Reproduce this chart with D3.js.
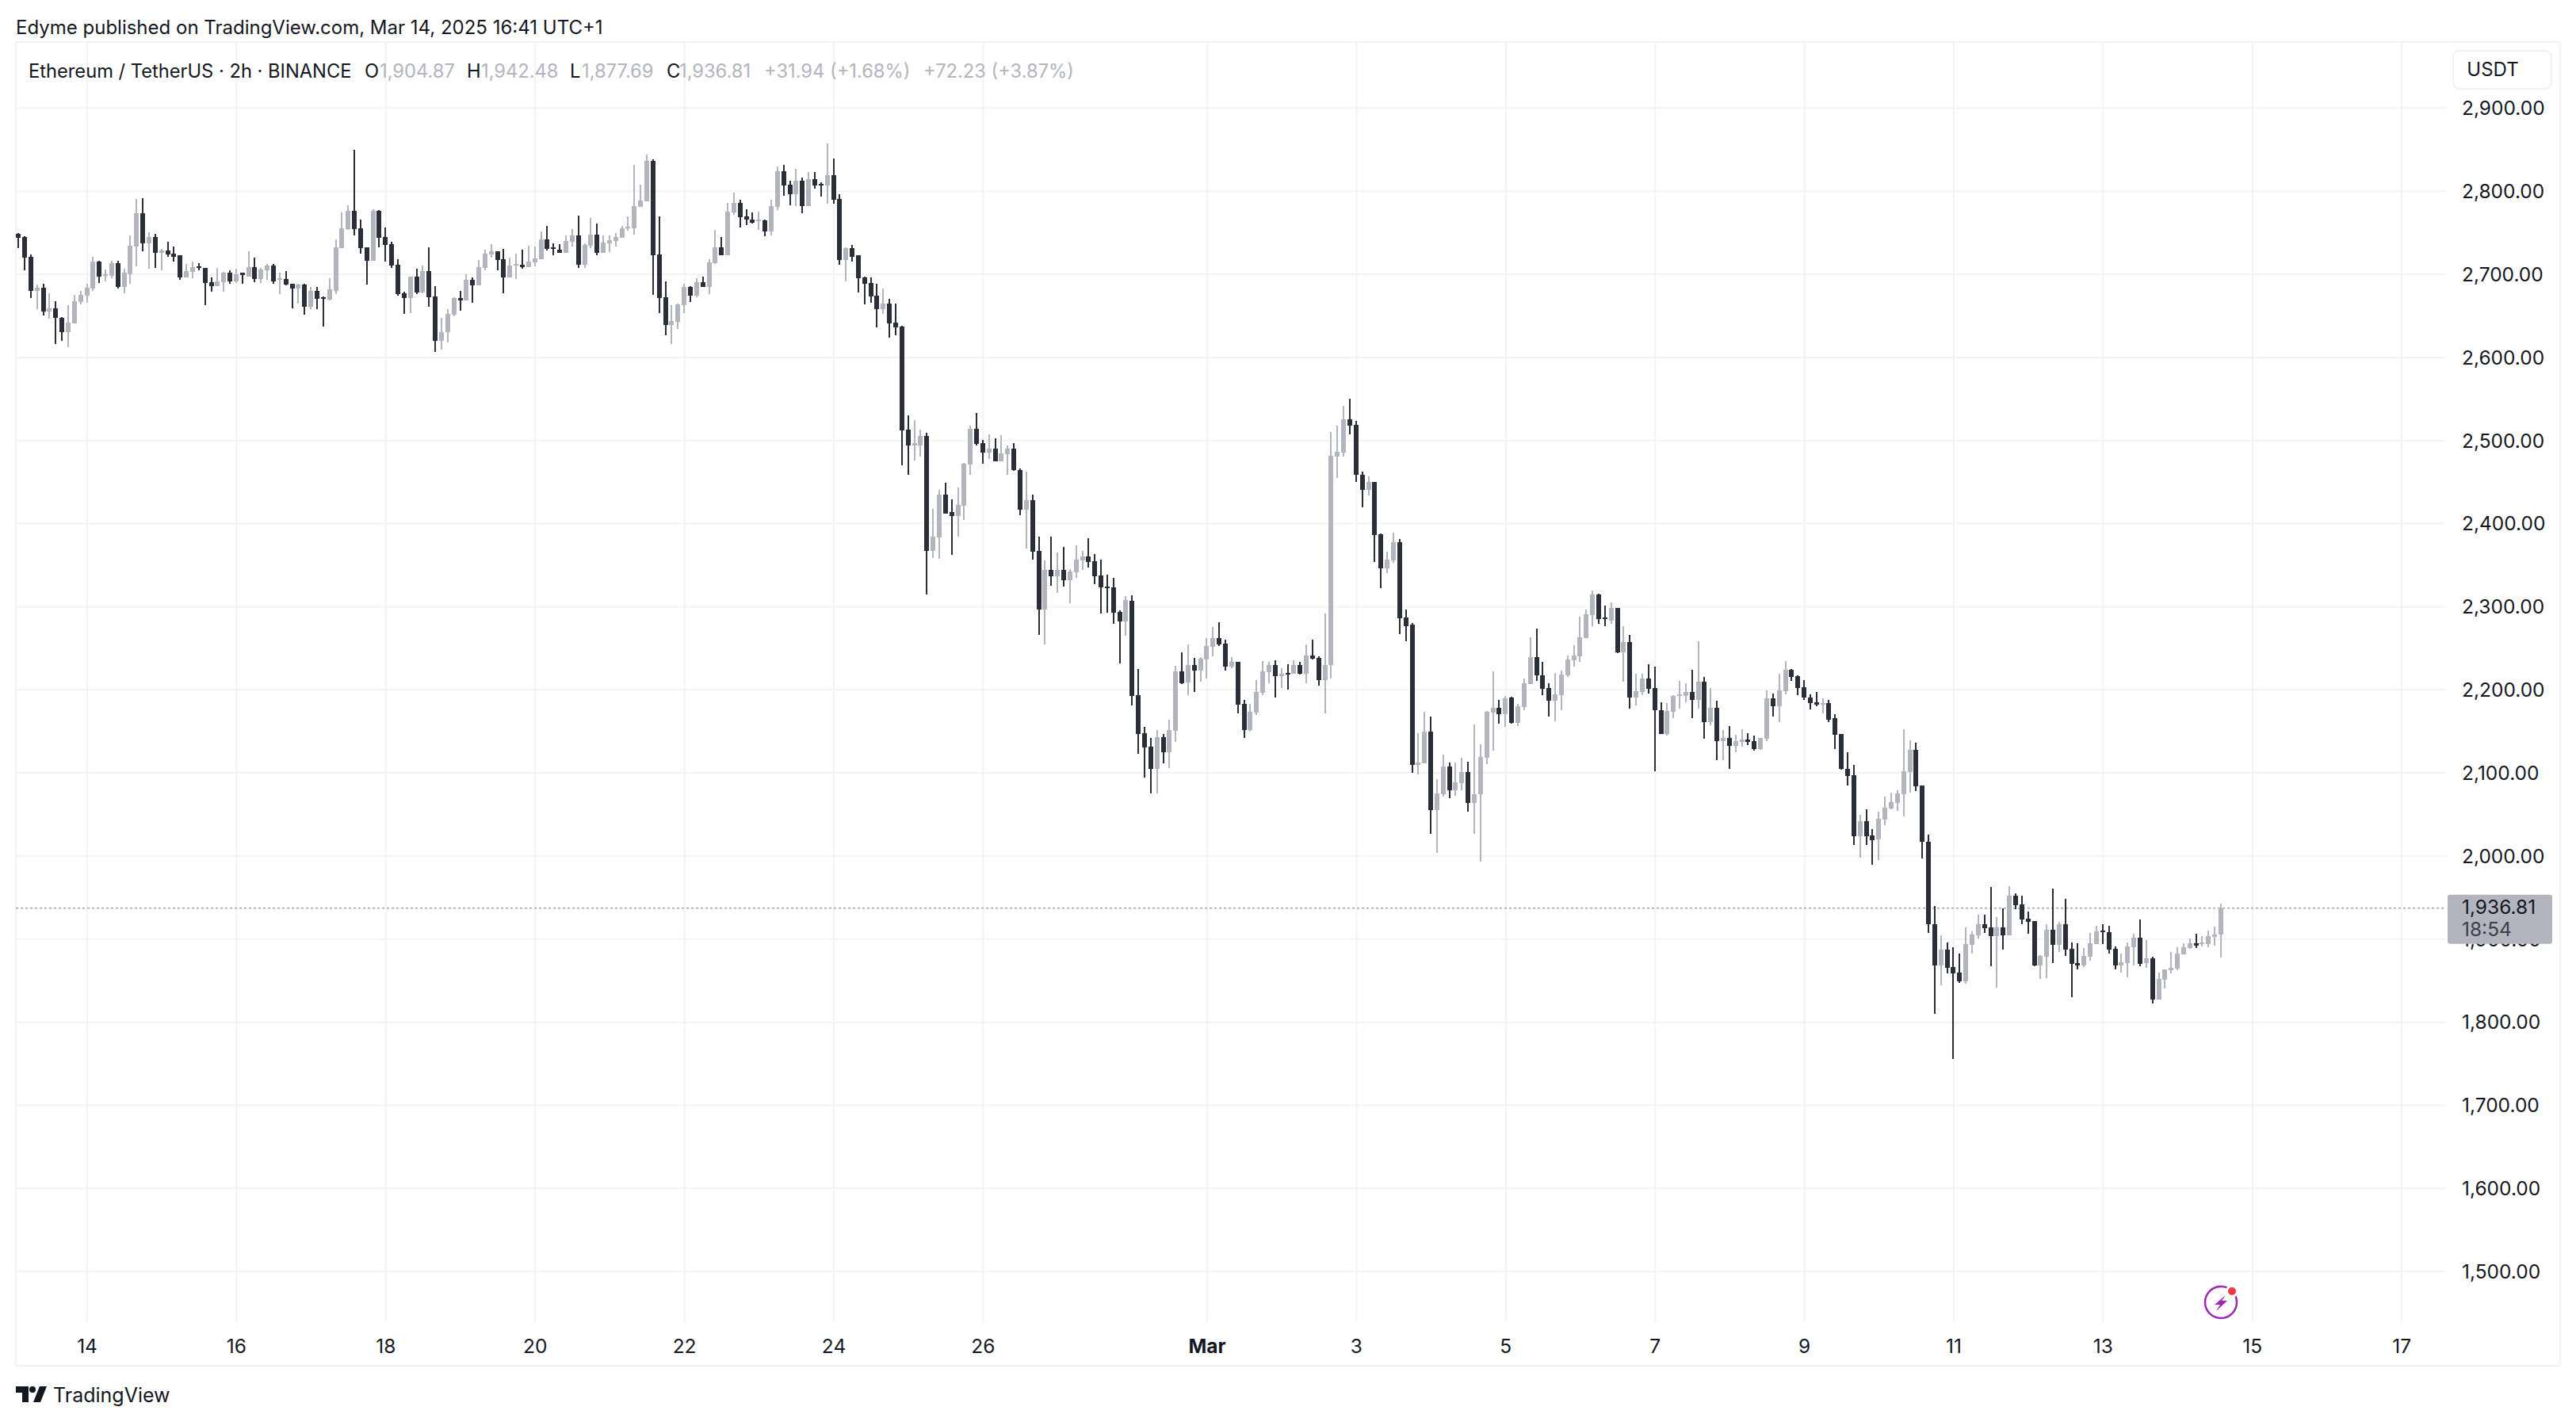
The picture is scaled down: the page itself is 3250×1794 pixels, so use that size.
<!DOCTYPE html>
<html>
<head>
<meta charset="utf-8">
<script src="https://cdn.jsdelivr.net/npm/d3@7"></script>
<style>
  body { margin: 0; background: #fff; }
  text { font-family: Inter, "Noto Sans", sans-serif; }
  .grid line { stroke: #f3f3f4; stroke-width: 2; }
  .axis text { font-size: 24.5px; fill: #131722; }
</style>
</head>
<body>
<svg id="chart" width="3250" height="1794"></svg>
<script>
const firstCandle = Date.UTC(2025, 1, 13, 2);
const candleHours = 2;

const opens = [
  2748,2744,2721,2680,2683,2655,2659,2647,2630,2640,
  2666,2674,2682,2715,2698,2698,2713,2684,2700,2733,
  2773,2737,2744,2725,2728,2724,2722,2696,2702,2709,
  2707,2690,2685,2690,2701,2691,2701,2697,2708,2694,
  2704,2710,2693,2694,2688,2682,2687,2660,2680,2672,
  2669,2680,2731,2754,2776,2755,2732,2716,2776,2744,
  2736,2711,2677,2671,2697,2678,2703,2673,2619,2630,
  2651,2671,2668,2693,2686,2707,2723,2727,2718,2696,
  2710,2711,2708,2714,2718,2742,2732,2729,2725,2739,
  2746,2711,2734,2747,2725,2737,2740,2743,2755,2755,
  2781,2787,2836,2723,2672,2639,2642,2662,2684,2674,
  2690,2684,2713,2732,2722,2774,2785,2769,2765,2763,
  2764,2751,2781,2824,2807,2796,2812,2782,2814,2808,
  2806,2819,2790,2717,2731,2722,2696,2689,2674,2658,
  2664,2641,2637,2513,2494,2494,2505,2367,2383,2434,
  2413,2409,2421,2471,2514,2496,2485,2490,2474,2483,
  2490,2464,2416,2428,2367,2296,2344,2336,2344,2331,
  2341,2355,2360,2354,2337,2324,2323,2293,2282,2307,
  2193,2147,2131,2104,2143,2124,2150,2222,2208,2229,
  2223,2236,2251,2262,2255,2227,2233,2183,2151,2172,
  2196,2221,2229,2216,2220,2219,2229,2219,2241,2238,
  2211,2229,2480,2485,2525,2518,2458,2440,2450,2387,
  2346,2355,2377,2287,2278,2109,2111,2149,2055,2074,
  2107,2079,2087,2101,2063,2074,2118,2172,2178,2170,
  2190,2160,2179,2206,2239,2217,2202,2186,2193,2217,
  2235,2240,2262,2289,2314,2287,2283,2298,2245,2257,
  2190,2197,2213,2202,2175,2146,2173,2192,2192,2197,
  2187,2209,2161,2178,2138,2142,2132,2137,2140,2138,
  2128,2141,2189,2180,2198,2224,2216,2203,2190,2185,
  2182,2184,2165,2146,2104,2097,2023,2041,2024,2020,
  2043,2057,2063,2074,2101,2127,2084,2017,1917,1868,
  1887,1866,1859,1849,1893,1904,1917,1914,1903,1914,
  1904,1952,1941,1924,1921,1868,1878,1911,1893,1917,
  1888,1871,1868,1878,1894,1910,1908,1888,1868,1871,
  1890,1901,1871,1876,1827,1851,1862,1864,1881,1889,
  1895,1894,1894,1902,1904.87
];
const highs = [
  2749,2745,2723,2687,2688,2677,2667,2648,2662,2675,
  2680,2688,2721,2716,2705,2716,2716,2706,2746,2790,
  2791,2750,2748,2730,2739,2733,2722,2712,2715,2713,
  2707,2696,2707,2702,2704,2706,2701,2727,2720,2707,
  2712,2712,2701,2703,2688,2688,2688,2684,2684,2673,
  2695,2742,2774,2783,2849,2765,2732,2778,2777,2756,
  2739,2718,2679,2697,2706,2710,2732,2685,2647,2658,
  2672,2680,2700,2696,2717,2729,2736,2727,2730,2720,
  2724,2729,2734,2733,2751,2758,2737,2736,2746,2754,
  2770,2737,2767,2761,2746,2746,2749,2758,2769,2831,
  2807,2844,2838,2769,2691,2662,2664,2688,2685,2695,
  2697,2718,2753,2744,2785,2798,2789,2778,2774,2775,
  2765,2789,2829,2831,2812,2826,2816,2823,2823,2810,
  2857,2839,2796,2732,2735,2722,2697,2696,2688,2682,
  2670,2664,2638,2530,2524,2513,2509,2417,2440,2449,
  2429,2443,2473,2517,2533,2500,2507,2502,2506,2494,
  2496,2466,2462,2434,2384,2355,2384,2365,2371,2345,
  2373,2367,2382,2363,2356,2338,2334,2295,2312,2313,
  2225,2155,2142,2151,2146,2164,2228,2245,2254,2238,
  2239,2262,2275,2281,2260,2239,2233,2187,2183,2211,
  2234,2233,2235,2226,2230,2235,2233,2254,2260,2240,
  2291,2510,2517,2541,2550,2523,2462,2456,2450,2388,
  2366,2389,2381,2296,2280,2147,2173,2167,2092,2122,
  2112,2112,2118,2113,2158,2134,2174,2222,2187,2192,
  2191,2183,2213,2263,2273,2233,2207,2220,2223,2241,
  2253,2288,2296,2319,2315,2301,2305,2298,2276,2266,
  2219,2219,2230,2227,2185,2184,2193,2210,2207,2224,
  2258,2215,2202,2186,2151,2156,2145,2152,2147,2144,
  2142,2199,2195,2219,2234,2225,2217,2211,2194,2197,
  2189,2187,2170,2146,2124,2109,2049,2056,2032,2053,
  2071,2076,2079,2152,2139,2136,2084,2025,1939,1904,
  1896,1890,1882,1914,1909,1929,1929,1962,1926,1937,
  1963,1955,1952,1933,1921,1880,1917,1960,1920,1948,
  1896,1895,1889,1907,1916,1917,1916,1891,1882,1896,
  1906,1923,1898,1878,1859,1863,1884,1890,1895,1900,
  1906,1903,1910,1915,1942.48
];
const lows = [
  2731,2704,2671,2658,2650,2646,2616,2619,2612,2640,
  2663,2665,2680,2689,2691,2695,2682,2677,2688,2709,
  2727,2706,2707,2704,2721,2715,2693,2696,2695,2704,
  2662,2679,2685,2679,2688,2689,2688,2697,2690,2689,
  2693,2688,2676,2686,2659,2664,2651,2658,2658,2637,
  2668,2676,2731,2753,2746,2724,2687,2716,2732,2715,
  2707,2674,2652,2653,2676,2677,2660,2606,2609,2618,
  2649,2656,2668,2665,2686,2704,2720,2704,2677,2696,
  2694,2706,2708,2709,2718,2728,2722,2725,2725,2733,
  2707,2707,2731,2722,2725,2726,2733,2743,2752,2747,
  2781,2787,2675,2653,2626,2616,2634,2653,2666,2672,
  2684,2676,2712,2722,2722,2771,2756,2759,2761,2753,
  2745,2746,2777,2794,2783,2782,2773,2782,2803,2793,
  2784,2784,2711,2691,2715,2678,2663,2665,2636,2652,
  2623,2626,2470,2458,2475,2480,2314,2358,2357,2412,
  2362,2384,2404,2458,2494,2472,2477,2474,2474,2458,
  2463,2410,2370,2356,2266,2254,2325,2316,2324,2304,
  2334,2344,2347,2327,2291,2292,2279,2231,2265,2181,
  2123,2094,2075,2075,2111,2105,2137,2206,2193,2197,
  2209,2213,2240,2252,2223,2226,2171,2142,2149,2169,
  2193,2207,2190,2202,2200,2219,2218,2207,2236,2205,
  2171,2213,2454,2480,2507,2450,2419,2433,2353,2322,
  2340,2352,2267,2258,2100,2098,2111,2026,2003,2071,
  2069,2072,2079,2053,2026,1993,2110,2126,2159,2155,
  2159,2156,2175,2206,2210,2193,2167,2162,2175,2215,
  2227,2233,2262,2276,2279,2276,2279,2244,2209,2177,
  2181,2193,2195,2102,2146,2144,2165,2177,2185,2165,
  2177,2141,2157,2115,2115,2104,2124,2131,2133,2126,
  2127,2138,2167,2161,2194,2210,2193,2187,2176,2180,
  2171,2161,2128,2103,2084,2013,1998,2013,1989,1995,
  2037,2056,2054,2047,2076,2078,1997,1907,1810,1844,
  1858,1755,1847,1846,1882,1900,1907,1867,1841,1887,
  1904,1936,1917,1906,1867,1852,1853,1871,1884,1879,
  1830,1863,1866,1874,1894,1894,1882,1863,1859,1854,
  1868,1867,1865,1822,1827,1840,1858,1862,1881,1888,
  1889,1891,1890,1892,1877.69
];
const closes = [
  2743,2720,2680,2683,2655,2659,2647,2630,2641,2667,
  2675,2683,2715,2697,2700,2713,2684,2701,2734,2773,
  2737,2744,2725,2728,2723,2721,2696,2703,2708,2707,
  2689,2685,2691,2701,2691,2700,2699,2708,2694,2705,
  2710,2691,2695,2687,2682,2687,2660,2680,2670,2670,
  2681,2732,2755,2776,2754,2731,2716,2776,2743,2735,
  2710,2676,2671,2697,2678,2703,2672,2619,2630,2652,
  2671,2668,2693,2686,2708,2724,2727,2717,2696,2710,
  2712,2708,2715,2719,2742,2730,2730,2725,2740,2746,
  2711,2735,2747,2725,2738,2741,2744,2755,2757,2782,
  2788,2836,2722,2671,2639,2643,2663,2684,2674,2690,
  2684,2714,2732,2722,2775,2785,2768,2765,2762,2765,
  2751,2782,2824,2806,2796,2812,2782,2814,2806,2806,
  2819,2789,2717,2731,2721,2695,2688,2673,2658,2664,
  2640,2636,2512,2494,2496,2505,2367,2384,2434,2412,
  2409,2422,2472,2514,2495,2485,2490,2474,2484,2490,
  2464,2416,2428,2366,2296,2344,2336,2344,2331,2342,
  2356,2360,2353,2336,2323,2323,2292,2282,2308,2192,
  2146,2130,2104,2143,2124,2151,2222,2207,2229,2223,
  2237,2252,2262,2254,2227,2233,2182,2151,2173,2197,
  2222,2229,2216,2219,2219,2229,2219,2241,2237,2211,
  2229,2481,2486,2525,2517,2458,2440,2450,2386,2346,
  2356,2377,2286,2276,2109,2112,2149,2055,2075,2107,
  2079,2088,2101,2063,2074,2119,2173,2178,2170,2189,
  2160,2180,2207,2239,2217,2201,2186,2194,2218,2236,
  2241,2263,2290,2314,2285,2285,2298,2245,2257,2190,
  2198,2213,2201,2175,2146,2174,2192,2194,2197,2187,
  2209,2161,2178,2138,2142,2132,2138,2140,2137,2128,
  2142,2189,2180,2199,2224,2215,2202,2190,2184,2182,
  2184,2164,2145,2104,2096,2023,2041,2023,2019,2044,
  2058,2064,2075,2102,2127,2083,2017,1917,1868,1887,
  1865,1858,1849,1894,1905,1917,1913,1903,1914,1904,
  1952,1940,1923,1920,1868,1879,1911,1893,1917,1887,
  1870,1868,1879,1895,1909,1908,1887,1868,1872,1891,
  1901,1870,1876,1827,1852,1863,1865,1882,1890,1895,
  1892,1896,1903,1905,1936.81
];

const priceTicks = [1500, 1600, 1700, 1800, 1900, 2000, 2100, 2200, 2300, 2400, 2500, 2600, 2700, 2800, 2900];
const dayTicks = ['02-14', '02-16', '02-18', '02-20', '02-22', '02-24', '02-26', '03-01', '03-03', '03-05', '03-07', '03-09', '03-11', '03-13', '03-15', '03-17'];
const lastPrice = 1936.81;
const countdown = '18:54';

const plot = { left: 20, top: 53, right: 3086, bottom: 1668, frameRight: 3230, frameBottom: 1723 };
const up = '#b2b5be';
const down = '#2a2e39';

const dayDate = d => new Date('2025-' + d + 'T00:00:00Z');
const candleDate = i => new Date(firstCandle + i * candleHours * 3600000);

const x = d3.scaleUtc()
  .domain([candleDate(0), candleDate(opens.length - 1)])
  .range([23.2, 2802]);

const y = d3.scaleLinear()
  .domain([1500, 2800])
  .range([1603.7, 240.7]);

const svg = d3.select('#chart');

svg.append('rect')
  .attr('x', plot.left).attr('y', plot.top)
  .attr('width', plot.frameRight - plot.left)
  .attr('height', plot.frameBottom - plot.top)
  .attr('fill', 'none')
  .attr('stroke', '#f3f3f4')
  .attr('stroke-width', 2);

const xAxis = d3.axisBottom(x)
  .tickValues(dayTicks.map(dayDate))
  .tickSizeInner(-(plot.bottom - plot.top))
  .tickSizeOuter(0)
  .tickPadding(22)
  .tickFormat(d => d.getUTCDate() === 1 ? 'Mar' : d.getUTCDate());

const xg = svg.append('g')
  .attr('class', 'axis grid')
  .attr('transform', 'translate(0,' + plot.bottom + ')')
  .call(xAxis);
xg.select('.domain').remove();
xg.selectAll('text').filter(d => d.getUTCDate() === 1).attr('font-weight', 700);

const yAxis = d3.axisRight(y)
  .tickValues(priceTicks)
  .tickSizeInner(-(plot.right - plot.left))
  .tickSizeOuter(0)
  .tickPadding(20)
  .tickFormat(d3.format(',.2f'));

const yg = svg.append('g')
  .attr('class', 'axis grid')
  .attr('transform', 'translate(' + plot.right + ',0)')
  .call(yAxis);
yg.select('.domain').remove();
yg.selectAll('text').attr('dy', '0.36em');

// last price line, under the candles
svg.append('line')
  .attr('x1', plot.left).attr('x2', plot.right)
  .attr('y1', y(lastPrice)).attr('y2', y(lastPrice))
  .attr('stroke', up)
  .attr('stroke-width', 2)
  .attr('stroke-dasharray', '3 3');

const candles = svg.append('g')
  .attr('shape-rendering', 'crispEdges')
  .selectAll('g')
  .data(d3.range(opens.length))
  .enter()
  .append('g')
  .attr('fill', i => closes[i] >= opens[i] ? up : down);

candles.append('rect')
  .attr('x', i => Math.round(x(candleDate(i))) - 1)
  .attr('width', 2)
  .attr('y', i => y(highs[i]))
  .attr('height', i => y(lows[i]) - y(highs[i]));

candles.append('rect')
  .attr('x', i => Math.round(x(candleDate(i))) - 3)
  .attr('width', 6)
  .attr('y', i => y(Math.max(opens[i], closes[i])))
  .attr('height', i => Math.max(2, Math.abs(y(opens[i]) - y(closes[i]))));

// price badge
const badgeY = y(lastPrice) - 17;
svg.append('rect')
  .attr('x', plot.right + 2).attr('y', badgeY)
  .attr('width', 132).attr('height', 62)
  .attr('rx', 3)
  .attr('fill', up);
svg.append('text')
  .attr('x', plot.right + 20).attr('y', badgeY + 24)
  .attr('font-size', 24.5).attr('fill', '#131722')
  .text(d3.format(',.2f')(lastPrice));
svg.append('text')
  .attr('x', plot.right + 20).attr('y', badgeY + 52)
  .attr('font-size', 24.5).attr('fill', '#3c3f47')
  .text(countdown);

// currency button
svg.append('rect')
  .attr('x', 3095).attr('y', 64)
  .attr('width', 124).attr('height', 48)
  .attr('rx', 8)
  .attr('fill', '#fff')
  .attr('stroke', '#f0f1f3')
  .attr('stroke-width', 2);
svg.append('text')
  .attr('x', 3145).attr('y', 96)
  .attr('text-anchor', 'middle')
  .attr('font-size', 24).attr('fill', '#131722')
  .text('USDT');

// header and legend
svg.append('text')
  .attr('x', 20).attr('y', 43)
  .attr('font-size', 24).attr('fill', '#131722')
  .text('Edyme published on TradingView.com, Mar 14, 2025 16:41 UTC+1');

const legendItems = [
  { x: 36, t: 'Ethereum / TetherUS · 2h · BINANCE', c: '#131722' },
  { x: 460, t: 'O', c: '#131722' },
  { x: 479, t: '1,904.87', c: up },
  { x: 589, t: 'H', c: '#131722' },
  { x: 607, t: '1,942.48', c: up },
  { x: 719, t: 'L', c: '#131722' },
  { x: 734, t: '1,877.69', c: up },
  { x: 841, t: 'C', c: '#131722' },
  { x: 857, t: '1,936.81', c: up },
  { x: 964, t: '+31.94 (+1.68%)', c: up },
  { x: 1165, t: '+72.23 (+3.87%)', c: up }
];
svg.append('g').selectAll('text')
  .data(legendItems)
  .enter()
  .append('text')
  .attr('x', d => d.x)
  .attr('y', 98)
  .attr('font-size', 23.7)
  .attr('fill', d => d.c)
  .text(d => d.t);

// TradingView mark
const logo = svg.append('g')
  .attr('transform', 'translate(20,1749)')
  .attr('fill', '#131722');
logo.append('path').attr('d', 'M0 0H16V20H8V8H0Z');
logo.append('circle').attr('cx', 21).attr('cy', 4).attr('r', 4);
logo.append('path').attr('d', 'M30 0H39L31 20H22Z');
svg.append('text')
  .attr('x', 67).attr('y', 1769)
  .attr('font-size', 25).attr('fill', '#131722')
  .text('TradingView');

// lightning badge
const bolt = svg.append('g').attr('transform', 'translate(2802,1643)');
bolt.append('circle')
  .attr('r', 20)
  .attr('fill', 'none')
  .attr('stroke', '#9c27b0')
  .attr('stroke-width', 2.5);
bolt.append('path')
  .attr('d', 'M6 -9 L-8 3 L-1 3 L-6 11 L8 -2 L1 -2 Z')
  .attr('fill', '#9c27b0');
bolt.append('circle')
  .attr('cx', 14).attr('cy', -14).attr('r', 8)
  .attr('fill', '#fff');
bolt.append('circle')
  .attr('cx', 14).attr('cy', -14).attr('r', 5)
  .attr('fill', '#f23645');
</script>
</body>
</html>
